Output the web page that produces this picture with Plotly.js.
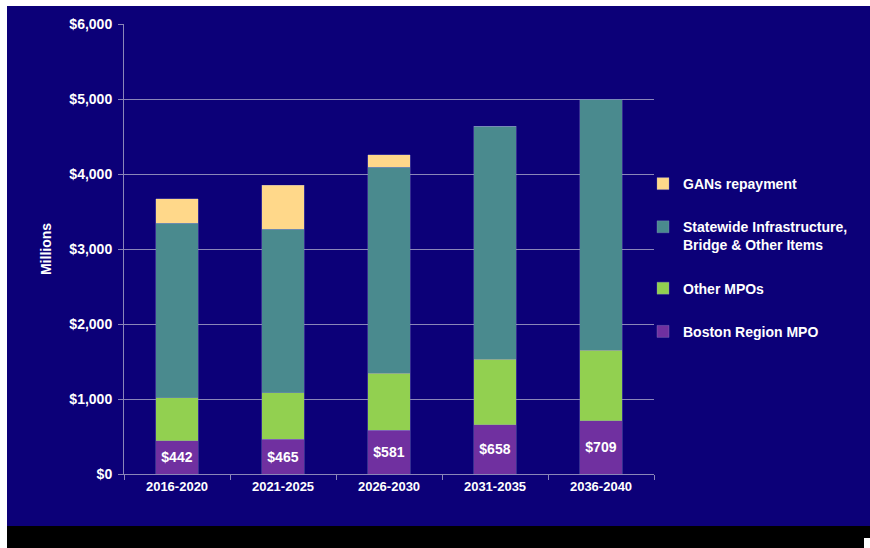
<!DOCTYPE html>
<html>
<head>
<meta charset="utf-8">
<script src="https://cdn.plot.ly/plotly-3.0.1.min.js"></script>
<style>
html,body{margin:0;padding:0;background:#ffffff;}
#chart{width:870px;height:548px;}
</style>
</head>
<body>
<div id="chart"></div>
<script>
// ---- data ----
const periods = ["2016-2020", "2021-2025", "2026-2030", "2031-2035", "2036-2040"];
const bostonMPO = [442, 465, 581, 658, 709];
const otherMPOs = [578, 618, 764, 872, 941];
const statewide = [2326, 2183, 2747, 3104, 3350];
const gansRepayment = [325, 586, 168, 0, 0];
const yTickVals = [0, 1000, 2000, 3000, 4000, 5000, 6000];
const yTickText = ["$0", "$1,000", "$2,000", "$3,000", "$4,000", "$5,000", "$6,000"];
const bostonLabels = bostonMPO.map(v => "$" + v);

// ---- styling ----
const NAVY = "#0c0078";
const GRID = "#8a86b8";
const FONT = "Liberation Sans, Arial, sans-serif";

// plot-area pixel geometry used for decorative framing shapes
const L = 124, R = 654, T = 24, B = 474;
const fx = px => (px - L) / (R - L);
const fy = py => (B - py) / (B - T);

const barLine = {color: "rgba(140,140,200,0.55)", width: 0.6};

const traces = [
  {name: "Boston Region MPO", x: periods, y: bostonMPO, type: "bar",
   marker: {color: "#7030a0", line: barLine}, legendgroup: "a", legendrank: 4,
   text: bostonLabels, textposition: "inside", insidetextanchor: "middle",
   textfont: {family: FONT, size: 14, color: "#ffffff", weight: "bold"},
   constraintext: "none", hoverinfo: "y"},
  {name: "Other MPOs", x: periods, y: otherMPOs, type: "bar",
   marker: {color: "#92d050", line: barLine}, legendgroup: "b", legendrank: 3, textposition: "none"},
  {name: "Statewide Infrastructure,<br>Bridge & Other Items", x: periods, y: statewide, type: "bar",
   marker: {color: "#4a8a8e", line: barLine}, legendgroup: "c", legendrank: 2, textposition: "none"},
  {name: "GANs repayment", x: periods, y: gansRepayment, type: "bar",
   marker: {color: "#ffd88a", line: barLine}, legendgroup: "d", legendrank: 1, textposition: "none"}
];

const layout = {
  width: 870, height: 548,
  margin: {l: L, r: 870 - R, t: T, b: 548 - B},
  paper_bgcolor: NAVY, plot_bgcolor: NAVY,
  barmode: "stack", bargap: 0.595,
  font: {family: FONT, color: "#ffffff", size: 14},
  showlegend: true,
  legend: {
    x: fx(643), xanchor: "left", y: fy(168), yanchor: "top",
    traceorder: "grouped", tracegroupgap: 22, valign: "top",
    font: {family: FONT, size: 14, color: "#ffffff", weight: "bold"},
    bgcolor: "rgba(0,0,0,0)"
  },
  xaxis: {
    type: "category", showgrid: false, showline: true, linecolor: GRID, linewidth: 1,
    ticks: "outside", tickson: "boundaries", ticklen: 5, tickcolor: GRID,
    tickfont: {family: FONT, size: 13, color: "#ffffff", weight: "bold"},
    zeroline: false, fixedrange: true
  },
  yaxis: {
    range: [0, 6000], tickvals: yTickVals, ticktext: yTickText,
    showgrid: true, gridcolor: GRID, gridwidth: 1,
    showline: true, linecolor: GRID, linewidth: 1,
    ticks: "outside", ticklen: 5, tickcolor: GRID, ticklabelstandoff: 3,
    tickfont: {family: FONT, size: 14, color: "#ffffff", weight: "bold"},
    zeroline: false, fixedrange: true,
    title: {text: "Millions", standoff: 14, font: {family: FONT, size: 14, color: "#ffffff", weight: "bold"}}
  },
  shapes: [
    {type: "rect", xref: "paper", yref: "paper", x0: fx(0), x1: fx(870), y0: fy(0), y1: fy(6),
     fillcolor: "#ffffff", line: {width: 0}, layer: "below"},
    {type: "rect", xref: "paper", yref: "paper", x0: fx(0), x1: fx(7), y0: fy(0), y1: fy(548),
     fillcolor: "#ffffff", line: {width: 0}, layer: "below"},
    {type: "rect", xref: "paper", yref: "paper", x0: fx(7), x1: fx(870), y0: fy(526), y1: fy(548),
     fillcolor: "#000000", line: {width: 0}, layer: "below"},
    {type: "rect", xref: "paper", yref: "paper", x0: fx(864), x1: fx(870), y0: fy(538), y1: fy(548),
     fillcolor: "#ffffff", line: {width: 0}, layer: "below"}
  ]
};

Plotly.newPlot("chart", traces, layout, {displayModeBar: false, staticPlot: true});
</script>
</body>
</html>
